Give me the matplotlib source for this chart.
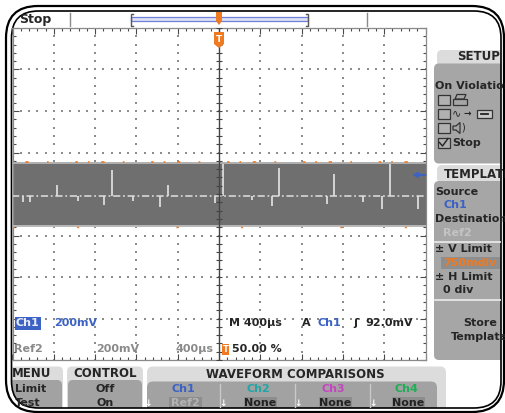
import numpy as np
import matplotlib.pyplot as plt
from matplotlib.patches import Rectangle, FancyBboxPatch, Polygon
from matplotlib.ticker import MultipleLocator

plt.rcParams['font.family'] = ['DejaVu Sans']

# Ch1 acquisition (time in us, level in mV)
t_span = [-2000, 2000]
band_top = [150, 150]
band_bottom = [-155, -155]
trace_level = -8
spikes_up_t = [-1565, -1034, -493, 39, 580, 1111, 1652]
spikes_up_mv = [44, 116, 44, 145, 126, 97, 145]
spikes_dn_t = [-1894, -1826, -1362, -1111, -831, -570, -39, 319, 512, 1043, 1391, 1575, 1932]
spikes_dn_mv = [-40, -40, -35, -53, -35, -63, -44, -30, -58, -48, -40, -73, -73]
trig_level_mv = 92.0
trig_pos_pct = 50.0

# readout / menu labels
ch_labels = ['Ch1', 'Ch2', 'Ch3', 'Ch4']
ch_colors = ['#3b62c4', '#1fa7a7', '#c545c0', '#1fae55']
ch_refs = ['Ref2', 'None', 'None', 'None']

W, H = 505, 413
DARK = '#262626'
LIGHT_TAB = '#dcdcdc'
BODY = '#a6a6a6'
ORANGE = '#ef7a22'
FS = 8
FS_HEAD = 8.5

fig = plt.figure(figsize=(W / 100, H / 100), dpi=100)
ui = fig.add_axes([0, 0, 1, 1], zorder=0)
ui.set_xlim(0, W)
ui.set_ylim(H, 0)
ui.axis('off')

# ---------------- graticule ----------------
gx0, gx1, gy0, gy1 = 12.5, 425.5, 28, 360
sc = fig.add_axes([gx0 / W, 1 - gy1 / H, (gx1 - gx0) / W, (gy1 - gy0) / H], zorder=1)
sc.set_xlim(-2000, 2000)
sc.set_ylim(-800, 800)
sc.xaxis.set_major_locator(MultipleLocator(400))
sc.xaxis.set_minor_locator(MultipleLocator(80))
sc.yaxis.set_major_locator(MultipleLocator(200))
sc.yaxis.set_minor_locator(MultipleLocator(40))
sc.tick_params(which='both', direction='in', top=True, right=True,
               labelbottom=False, labelleft=False, color='#4a4a4a')
sc.tick_params(which='major', length=4, width=0.8)
sc.tick_params(which='minor', length=2.5, width=0.8)
for sp in sc.spines.values():
    sp.set_color('#8a8a8a')
    sp.set_linewidth(0.9)

t_minor = np.arange(-2000, 2001, 80)
mv_minor = np.arange(-800, 801, 40)
for xv in np.arange(-1600, 1601, 400):
    if xv != 0:
        sc.scatter(np.full(mv_minor.size, xv), mv_minor, s=1.6, marker='s',
                   color='#8c8c8c', linewidths=0, zorder=1)
for yv in np.arange(-600, 601, 200):
    if yv != 0:
        sc.scatter(t_minor, np.full(t_minor.size, yv), s=1.6, marker='s',
                   color='#8c8c8c', linewidths=0, zorder=1)

# noise envelope
sc.fill_between(t_span, band_bottom, band_top, color='#6f6f6f', lw=0, zorder=2)
sc.plot(t_span, band_top, color='#b0b0b0', lw=1.4, zorder=3)
sc.plot(t_span, band_bottom, color='#b8b8b8', lw=1.4, zorder=3)
sc.plot(t_span, [v + 4 for v in band_top], color=ORANGE, lw=1.2, zorder=3,
        dashes=(1, 7, 2, 11, 1, 16, 1.5, 6))
sc.plot(t_span, [v - 4 for v in band_bottom], color=ORANGE, lw=1.0, zorder=3,
        dashes=(1.5, 45, 1.5, 70))
sc.plot(t_span, [trace_level] * 2, color='#cfcfcf', lw=1.3, zorder=4,
        dashes=(4, 1.5, 1, 1.5))
sc.vlines(spikes_up_t, trace_level, spikes_up_mv, color='#dcdcdc', lw=1.3, zorder=4)
sc.vlines(spikes_dn_t, trace_level, spikes_dn_mv, color='#dcdcdc', lw=1.3, zorder=4)

# center crosshair
sc.axvline(0, color='#444444', lw=1, zorder=5)
sc.plot(np.zeros(mv_minor.size), mv_minor, ls='none', marker='_', ms=4,
        mew=0.8, color='#444444', zorder=5)

# trigger level arrow
sc.annotate('', xy=(1870, trig_level_mv), xytext=(2000, trig_level_mv),
            arrowprops=dict(arrowstyle='-|>', color='#3b62c4', lw=1.4,
                            mutation_scale=7, shrinkA=0, shrinkB=0), zorder=6)

# trigger position marker
tx = 219
sc.add_patch(Polygon([(tx - 5, 32), (tx + 5, 32), (tx + 5, 44), (tx, 48), (tx - 5, 44)],
                     closed=True, fc=ORANGE, ec='none', transform=ui.transData, zorder=6))
sc.text(tx, 39, 'T', color='white', fontsize=6.5, weight='bold', ha='center',
        va='center', transform=ui.transData, zorder=7)

# readouts
def rt(x, y, s, color=DARK, size=FS, ha='left', **kw):
    sc.text(x, y, s, color=color, fontsize=size, weight='bold', ha=ha, va='center',
            transform=ui.transData, zorder=7, **kw)

sc.add_patch(Rectangle((15, 317), 26, 12.5, fc='#3b62c4', ec='none',
                       transform=ui.transData, zorder=6))
rt(16, 323.5, 'Ch1', color='#e8ecf8')
rt(54, 323.5, '200mV', color='#3b62c4')
rt(229, 323.5, 'M 400µs', color=DARK)
rt(302, 323.5, 'A', color=DARK)
rt(318, 323.5, 'Ch1', color='#3b62c4')
rt(353, 323.5, 'ʃ', color=DARK)
rt(365, 323.5, '92.0mV', color=DARK)
rt(14, 349, 'Ref2', color='#8a8a8a')
rt(96, 349, '200mV', color='#8a8a8a')
rt(176, 349, '400µs', color='#8a8a8a')
sc.add_patch(Rectangle((222, 343.5), 7, 11, fc=ORANGE, ec='none',
                       transform=ui.transData, zorder=6))
rt(225.5, 349, 'T', color='white', size=6, ha='center')
rt(232, 349, '50.00 %', color=DARK)

# ---------------- top bar ----------------
clipped = []
def add(p):
    ui.add_patch(p)
    clipped.append(p)
    return p

def txt(x, y, s, color=DARK, size=FS, ha='left', weight='bold', **kw):
    t = ui.text(x, y, s, color=color, fontsize=size, weight=weight, ha=ha,
                va='center', **kw)
    clipped.append(t)
    return t

def ln(xs, ys, **kw):
    l, = ui.plot(xs, ys, **kw)
    clipped.append(l)
    return l

txt(19, 19.5, 'Stop', size=9)
ln([70, 70], [13, 26], color='#8a8a8a', lw=1)
ln([367, 367], [13, 26], color='#8a8a8a', lw=1)
ln([132.5, 130.5, 130.5, 132.5], [13.5, 13.5, 25.5, 25.5], color='#555555', lw=1)
ln([306, 308, 308, 306], [13.5, 13.5, 25.5, 25.5], color='#555555', lw=1)
add(Rectangle((131, 17.3), 177, 3.4, fc='#dde1f6', ec='#6f80d6', lw=0.9))
add(Polygon([(216, 12), (222, 12), (222, 21), (219, 25), (216, 21)],
            closed=True, fc=ORANGE, ec='none'))

# ---------------- right side menu ----------------
add(FancyBboxPatch((437, 50), 80, 18, boxstyle='round,pad=0,rounding_size=5',
                   fc=LIGHT_TAB, ec='none'))
add(FancyBboxPatch((434, 63.5), 80, 100, boxstyle='round,pad=0,rounding_size=5',
                   fc=BODY, ec='none'))
txt(457, 57, 'SETUP', size=FS_HEAD)
txt(435, 86, 'On Violation')
for yc in [100, 113.5, 128, 142.5]:
    add(Rectangle((437.5, yc - 5), 12, 10, fc='#b0b0b0', ec='#333333', lw=0.9))
ln([439.5, 442.5, 448], [142.5, 146, 138.5], color='#222222', lw=1)
# printer
add(Rectangle((453, 99), 14, 5.5, fc='none', ec='#333333', lw=0.9))
add(Polygon([(455, 99), (457, 94.5), (466, 94.5), (464, 99)], closed=True,
            fc='none', ec='#333333', lw=0.9))
# waveform to ref
txt(452, 113, '∿', size=8, weight='normal')
txt(463, 113.5, '→', size=6.5)
add(Rectangle((477, 109.5), 15, 8, fc='#c8c8c8', ec='#333333', lw=0.9))
ln([481, 488], [113.5, 113.5], color='#222222', lw=1.3)
# speaker
add(Polygon([(453, 126), (456, 126), (460, 122.5), (460, 133.5), (456, 130), (453, 130)],
            closed=True, fc='none', ec='#333333', lw=0.9))
txt(461, 128, ')', size=7, weight='normal')
txt(452, 142.5, 'Stop')

add(FancyBboxPatch((437, 165), 80, 18, boxstyle='round,pad=0,rounding_size=5',
                   fc=LIGHT_TAB, ec='none'))
add(FancyBboxPatch((434, 181), 80, 179, boxstyle='round,pad=0,rounding_size=5',
                   fc=BODY, ec='none'))
txt(444, 174.5, 'TEMPLATE', size=FS_HEAD)
txt(435, 192, 'Source')
txt(443, 205, 'Ch1', color='#3b62c4')
txt(435, 219.5, 'Destination')
txt(443, 233, 'Ref2', color='#c4c4c4')
ln([435, 505], [242, 242], color='#ececec', lw=1.2)
txt(435, 249, '± V Limit')
add(Rectangle((441, 256.5), 70, 12, fc='#8e8e8e', ec='none'))
txt(443, 262.5, '750mdiv', color=ORANGE)
txt(435, 277, '± H Limit')
txt(443, 290, '0 div')
ln([435, 505], [300, 300], color='#ececec', lw=1.2)
txt(480, 323, 'Store', ha='center')
txt(479, 337, 'Template', ha='center')

# ---------------- bottom menu ----------------
add(FancyBboxPatch((4, 366.5), 59, 50, boxstyle='round,pad=0,rounding_size=5',
                   fc=LIGHT_TAB, ec='none'))
add(FancyBboxPatch((4, 380), 58, 40, boxstyle='round,pad=0,rounding_size=5',
                   fc='#a2a2a2', ec='none'))
add(FancyBboxPatch((67, 366.5), 76, 50, boxstyle='round,pad=0,rounding_size=5',
                   fc=LIGHT_TAB, ec='none'))
add(FancyBboxPatch((68, 380), 74, 40, boxstyle='round,pad=0,rounding_size=5',
                   fc='#a2a2a2', ec='none'))
add(FancyBboxPatch((147, 366.5), 299, 50, boxstyle='round,pad=0,rounding_size=6',
                   fc=LIGHT_TAB, ec='none'))
add(FancyBboxPatch((147, 381.5), 290, 40, boxstyle='round,pad=0,rounding_size=6',
                   fc='#a2a2a2', ec='none'))
txt(12, 373.5, 'MENU', size=FS_HEAD)
txt(105, 373.5, 'CONTROL', size=FS_HEAD, ha='center')
txt(295, 374, 'WAVEFORM COMPARISONS', size=FS_HEAD, ha='center')
txt(15, 388.5, 'Limit')
txt(15, 402.5, 'Test')
txt(105, 388.5, 'Off', ha='center')
txt(105, 402.5, 'On', ha='center')

col_x = [183, 258, 333, 406]
for cx, lab, col, ref in zip(col_x, ch_labels, ch_colors, ch_refs):
    txt(cx, 388.5, lab, color=col, ha='center')
    add(Rectangle((cx - 14, 396.5), 33, 13, fc='#8d8d8d', ec='none'))
    if ref == 'Ref2':
        txt(cx + 2, 403, ref, color='#b4b4b4', ha='center')
    else:
        txt(cx + 2, 403, ref, color='#222222', ha='center')
for sx in [220, 295, 370]:
    ln([sx, sx], [384, 410], color='#c9c9c9', lw=1)
for ax_ in [148, 223, 298, 373]:
    txt(ax_, 403, '↓', color='white', size=6.5, ha='center')

# ---------------- bezel ----------------
inner = FancyBboxPatch((11.5, 11), 489.5, 397, boxstyle='round,pad=0,rounding_size=27',
                       fc='none', ec='black', lw=1.2, transform=ui.transData)
for art in clipped:
    art.set_clip_path(inner)
ui.add_patch(inner)
ui.add_patch(FancyBboxPatch((6, 6), 498, 406, boxstyle='round,pad=0,rounding_size=32',
                            fc='none', ec='black', lw=1.6, clip_on=False))

fig.savefig('out.png', dpi=100)
